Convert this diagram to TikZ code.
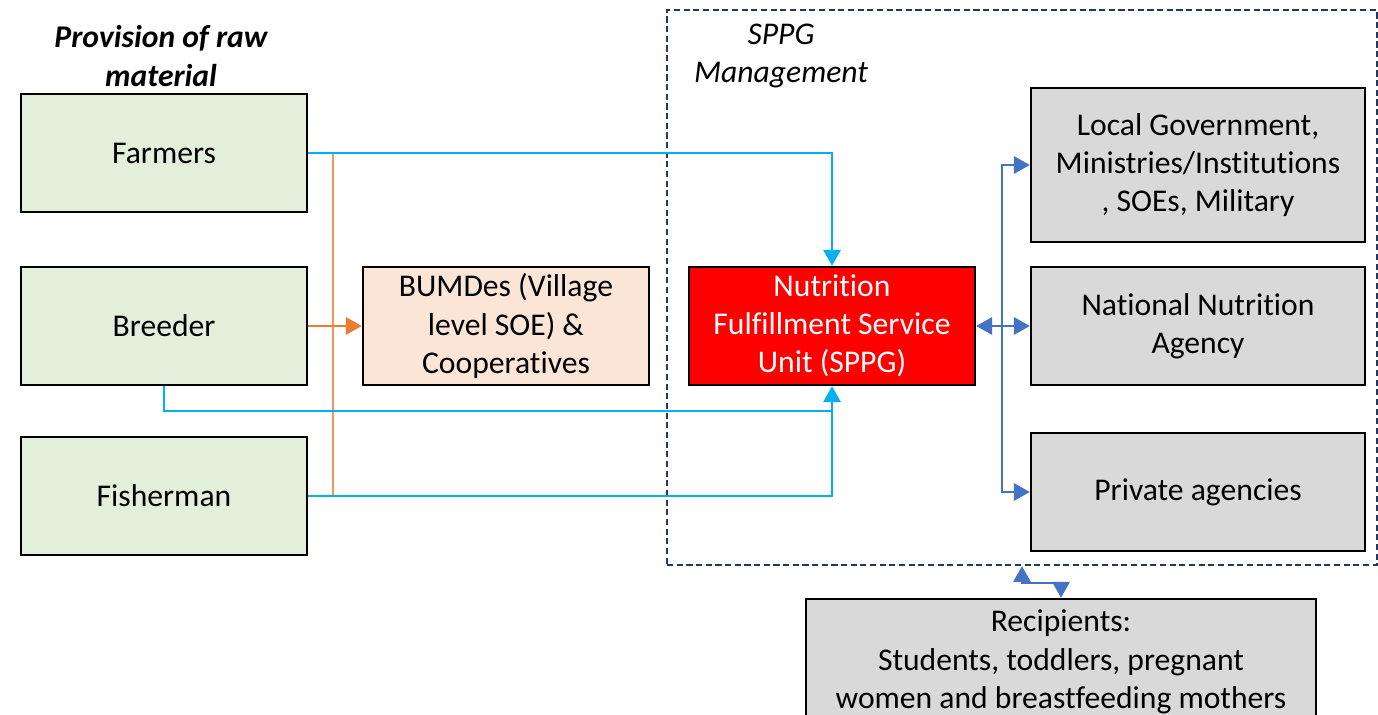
\documentclass[tikz,border=0pt]{standalone}
\usepackage{fontspec}
\setmainfont[Ligatures=NoCommon]{Carlito}
\usetikzlibrary{positioning,arrows.meta}
\definecolor{sppgGreen}{RGB}{226,239,218}
\definecolor{sppgPeach}{RGB}{251,229,214}
\definecolor{sppgGrey}{RGB}{217,217,217}
\definecolor{sppgRed}{RGB}{255,0,0}
\definecolor{sppgCyan}{RGB}{0,176,240}
\definecolor{sppgOrange}{RGB}{237,125,49}
\definecolor{sppgBlue}{RGB}{68,114,196}
\definecolor{sppgNavy}{RGB}{31,56,100}

\begin{document}
\begin{tikzpicture}[x=0.02cm, y=-0.02cm,
    >={Triangle[length=9pt, width=10pt]},
    every node/.style={font=\fontsize{18}{21.8}\selectfont, align=center},
    source/.style={draw, line width=1.5pt, fill=sppgGreen,
      minimum width=5.72cm, minimum height=2.36cm, inner sep=0pt},
    coop/.style={source, fill=sppgPeach},
    unit/.style={source, fill=sppgRed, text=white},
    agency/.style={draw, line width=1.5pt, fill=sppgGrey,
      minimum width=6.68cm, minimum height=2.36cm, inner sep=0pt},
    feed/.style={line width=0.8pt, color=sppgCyan},
    supply/.style={line width=0.8pt, color=sppgOrange!80},
    link/.style={line width=0.8pt, color=sppgBlue}
  ]
    \useasboundingbox (0,0) rectangle (1378,715);

    % management frame
    \node[draw=sppgNavy, dash pattern=on 3.5pt off 2pt, line width=1.4pt,
      minimum width=14.2cm, minimum height=11.1cm] (mgmt) at (1022,287.5) {};
    \node[font=\fontsize{18}{21.8}\selectfont\itshape] (mgmtlabel) at (781,56) {SPPG\\Management};
    \node[font=\fontsize{18}{21.8}\selectfont\bfseries\itshape] (rawlabel) at (161,56) {Provision of raw\\material};

    % raw material sources
    \node[source] (farmers) at (164,153) {Farmers};
    \node[source] (breeder) at (164,326) {Breeder};
    \node[source] (fisherman) at (164,496) {Fisherman};

    \node[coop] (bumdes) at (506,326) {BUMDes (Village\\level SOE) \&\\Cooperatives};
    \node[unit] (sppg) at (832,326) {Nutrition\\Fulfillment Service\\Unit (SPPG)};

    % agencies
    \node[agency, minimum height=3.08cm] (gov) at (1198,165)
      {Local Government,\\Ministries/Institutions\\, SOEs, Military};
    \node[agency] (nna) at (1198,326) {National Nutrition\\Agency};
    \node[agency] (private) at (1198,492) {Private agencies};
    \node[draw, line width=1.5pt, fill=sppgGrey, minimum width=10.2cm,
      minimum height=2.52cm, inner sep=0pt] (recipients) at (1061,662)
      {Recipients:\\Students, toddlers, pregnant\\women and breastfeeding mothers};

    % orange supply lines
    \coordinate (otop) at (333,153);
    \coordinate (obot) at (333,496);
    \draw[supply] (farmers.east) -- (otop) -- (obot) -- (fisherman.east);
    \draw[supply, color=sppgOrange, ->] (breeder.east) -- (bumdes.west);

    % direct feeds to SPPG
    \coordinate (join) at (832,411);
    \draw[feed, ->] (farmers.east) -| (sppg.north);
    \draw[feed, ->] (breeder.south) |- (join) -- (sppg.south);
    \draw[feed] (fisherman.east) -| (join);

    % SPPG to agencies
    \coordinate (hub) at (1002,326);
    \draw[link, <-] (sppg.east) -- (hub);
    \draw[link, ->] (hub) |- (gov.west);
    \draw[link, ->] (hub) -- (nna.west);
    \draw[link, ->] (hub) |- (private.west);

    % frame to recipients
    \coordinate (bend) at (1061,583);
    \draw[link, <->] (mgmt.south) |- (bend) -- (recipients.north);
\end{tikzpicture}
\end{document}
